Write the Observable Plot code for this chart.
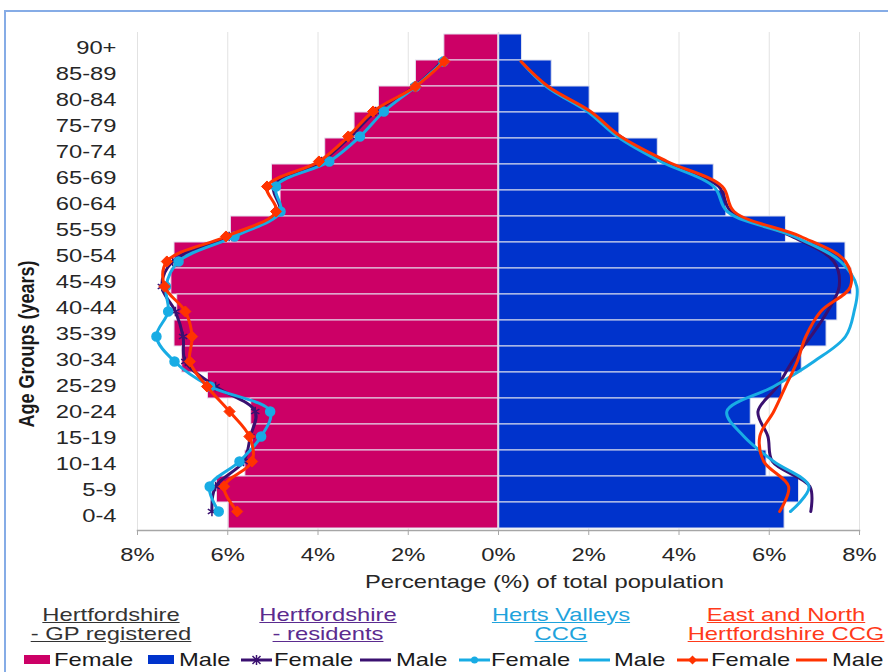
<!DOCTYPE html>
<html>
<head>
<meta charset="utf-8">
<script src="https://cdn.jsdelivr.net/npm/d3@7"></script>
<script src="https://cdn.jsdelivr.net/npm/@observablehq/plot@0.6"></script>
<style>
  html, body { margin: 0; padding: 0; background: #fff; }
  #wrap { position: relative; width: 888px; height: 672px; overflow: hidden; font-family: "Liberation Sans", Arial, sans-serif; }
  #border { position: absolute; left: 4px; top: 10px; width: 920px; height: 720px; border: 2px solid #86ace6; box-sizing: border-box; }
  .abs { position: absolute; }
  .lt { position: absolute; font-size: 19px; line-height: 19px; white-space: nowrap; transform: scaleX(1.25); transform-origin: left center; color: #1a1a1a; }
  .ttl { position: absolute; width: 200px; text-align: center; font-size: 19px; line-height: 19px; white-space: nowrap; text-decoration: underline; transform: scaleX(1.25); transform-origin: center center; }
</style>
</head>
<body>
<div id="wrap">
  <div id="border"></div>
  <div id="chart" class="abs" style="left:0;top:0"></div>
  <div id="lines" class="abs" style="left:0;top:0"></div>
  <div id="legend"></div>
</div>
<script>
// ---- Data (percent of total population) ----
const ages = ["90+","85-89","80-84","75-79","70-74","65-69","60-64","55-59","50-54","45-49","40-44","35-39","30-34","25-29","20-24","15-19","10-14","5-9","0-4"];
const xTicks = [-8,-6,-4,-2,0,2,4,6,8];

// Hertfordshire - GP registered (bars)
const gpFemale = [1.20,1.83,2.65,3.19,3.84,5.02,4.83,5.93,7.18,7.25,7.12,7.18,7.01,6.44,5.48,5.45,5.61,6.24,5.98];
const gpMale   = [0.52,1.18,2.02,2.68,3.53,4.77,5.05,6.37,7.69,7.83,7.51,7.27,6.72,6.29,5.59,5.71,5.94,6.66,6.34];

// Hertfordshire - residents
const resFemale = [1.25,1.86,2.72,3.28,3.92,4.98,4.85,5.97,7.22,7.46,7.16,6.99,6.94,6.27,5.39,5.50,5.65,6.27,6.35];
const resMale   = [0.50,1.10,2.00,2.70,3.66,4.88,5.15,6.50,7.43,7.55,7.29,6.92,6.51,6.18,5.75,5.97,6.07,6.90,6.92];

// Herts Valleys CCG
const hvFemale = [1.22,1.84,2.54,3.07,3.75,4.93,4.83,5.85,7.09,7.37,7.32,7.58,7.18,6.39,5.06,5.26,5.74,6.40,6.20];
const hvMale   = [0.50,1.06,1.97,2.63,3.59,4.77,5.07,6.55,7.58,7.94,7.88,7.69,6.99,6.10,5.06,5.44,6.10,6.88,6.47];

// East and North Hertfordshire CCG
const enFemale = [1.20,1.84,2.78,3.33,3.98,5.13,4.93,6.04,7.35,7.40,6.94,6.79,6.84,6.46,5.96,5.52,5.46,6.08,5.79];
const enMale   = [0.50,1.10,2.04,2.71,3.74,4.96,5.22,6.70,7.69,7.80,7.14,6.81,6.62,6.36,6.10,5.79,5.88,6.43,6.23];

const xLabel = "Percentage (%) of total population";
const yLabel = "Age Groups (years)";

const C = {
  female: "#cc0066", male: "#0033cc",
  res: "#3a1070", resText: "#5b2b8f",
  hv: "#18ace4", hvText: "#1fa3dc",
  en: "#ff3300", enText: "#ff3a1a",
  gpText: "#333333"
};

// ---- table ----
const rows = ages.map((age, i) => ({
  age,
  gpF: gpFemale[i], gpM: gpMale[i],
  resF: resFemale[i], resM: resMale[i],
  hvF: hvFemale[i], hvM: hvMale[i],
  enF: enFemale[i], enM: enMale[i]
}));

const common = {
  width: 888, height: 605,
  marginTop: 32, marginBottom: 75, marginLeft: 137, marginRight: 29,
  style: { fontFamily: "'Liberation Sans', Arial, sans-serif", fontSize: "19px", color: "#262626", background: "transparent", overflow: "visible" }
};

const main = Plot.plot({
  ...common,
  x: { domain: [-8, 8], tickFormat: d => Math.abs(d) + "%" },
  y: { type: "band", domain: ages, padding: 0 },
  marks: [
    Plot.gridX(xTicks, { stroke: "#e2e2e2", strokeOpacity: 1, strokeWidth: 1 }),
    Plot.barX(rows, { y: "age", x1: 0, x2: d => -d.gpF, fill: C.female, stroke: "#e4e0ee", strokeWidth: 1 }),
    Plot.barX(rows, { y: "age", x1: 0, x2: d => d.gpM, fill: C.male, stroke: "#e0e2ee", strokeWidth: 1 }),
    Plot.ruleX([0], { stroke: "#dcdce6", strokeWidth: 1.5 }),
    Plot.frame({ anchor: "bottom", stroke: "#a6a6a6", strokeWidth: 1.5 }),
    Plot.axisX(xTicks, { tickSize: 5, tickPadding: 12, stroke: "#a6a6a6", tickFormat: d => Math.abs(d) + "%", label: null }),
    Plot.axisY({ tickSize: 0, tickPadding: 21, label: null }),
    Plot.text([xLabel], { frameAnchor: "bottom", dx: 46, dy: 57, fontSize: 19, fill: "#262626" }),
    Plot.text([yLabel], { frameAnchor: "left", rotate: -90, dx: -111, dy: 146, fontSize: 18, fontWeight: "bold", fill: "#1a1a1a" })
  ]
});

const lineMarks = (key, neg, color) => Plot.line(rows, {
  x: d => neg ? -d[key] : d[key], y: "age", stroke: color, strokeWidth: 3, curve: "catmull-rom"
});

const over = Plot.plot({
  ...common,
  x: { domain: [-8, 8], axis: null },
  y: { type: "point", domain: ages, range: [58, 513], padding: 0, axis: null },
  marks: [
    // male (right side)
    lineMarks("resM", false, C.res),
    lineMarks("hvM", false, C.hv),
    lineMarks("enM", false, C.en),
    // female (left side) with markers
    lineMarks("resF", true, C.res),
    Plot.dot(rows, { x: d => -d.resF, y: "age", symbol: "asterisk", r: 4.5, stroke: C.res, strokeWidth: 1.5 }),
    lineMarks("hvF", true, C.hv),
    Plot.dot(rows, { x: d => -d.hvF, y: "age", symbol: "circle", r: 4.5, fill: C.hv, stroke: C.hv }),
    lineMarks("enF", true, C.en),
    Plot.dot(rows, { x: d => -d.enF, y: "age", symbol: "diamond2", r: 5, fill: C.en, stroke: C.en, strokeWidth: 1 })
  ]
});

function stretch(svg) {
  svg.querySelectorAll("text").forEach(t => {
    const tr = t.getAttribute("transform") || "";
    t.setAttribute("transform", tr + (tr.includes("rotate") ? " scale(1,1.25)" : " scale(1.25,1)"));
  });
}
stretch(main);

document.getElementById("chart").appendChild(main);
document.getElementById("lines").appendChild(over);

// ---- legend ----
const legendGroups = [
  { title: ["Hertfordshire", "- GP registered"], color: C.gpText, cx: 111 },
  { title: ["Hertfordshire", "- residents"], color: C.resText, cx: 328 },
  { title: ["Herts Valleys", "CCG"], color: C.hvText, cx: 561 },
  { title: ["East and North", "Hertfordshire CCG"], color: C.enText, cx: 786 }
];
const legendItems = [
  { label: "Female", kind: "rect", color: C.female, sx: 24, tx: 54 },
  { label: "Male", kind: "rect", color: C.male, sx: 148, tx: 179 },
  { label: "Female", kind: "line", marker: "asterisk", color: C.res, sx: 241, tx: 274 },
  { label: "Male", kind: "line", color: C.res, sx: 360, tx: 396 },
  { label: "Female", kind: "line", marker: "circle", color: C.hv, sx: 459, tx: 491 },
  { label: "Male", kind: "line", color: C.hv, sx: 579, tx: 614 },
  { label: "Female", kind: "line", marker: "diamond", color: C.en, sx: 677, tx: 711 },
  { label: "Male", kind: "line", color: C.en, sx: 796, tx: 832 }
];
const leg = document.getElementById("legend");
legendGroups.forEach(g => {
  const d = document.createElement("div");
  d.className = "ttl";
  d.style.left = (g.cx - 100) + "px";
  d.style.top = "605px";
  d.style.color = g.color;
  d.innerHTML = g.title[0] + "<br>" + g.title[1];
  leg.appendChild(d);
});
const ns = "http://www.w3.org/2000/svg";
const ls = document.createElementNS(ns, "svg");
ls.setAttribute("width", 888); ls.setAttribute("height", 32);
ls.style.position = "absolute"; ls.style.left = "0px"; ls.style.top = "640px";
legendItems.forEach(it => {
  if (it.kind === "rect") {
    const r = document.createElementNS(ns, "rect");
    r.setAttribute("x", it.sx); r.setAttribute("y", 15); r.setAttribute("width", 26); r.setAttribute("height", 9);
    r.setAttribute("fill", it.color);
    ls.appendChild(r);
  } else {
    const l = document.createElementNS(ns, "line");
    l.setAttribute("x1", it.sx); l.setAttribute("x2", it.sx + 31); l.setAttribute("y1", 20); l.setAttribute("y2", 20);
    l.setAttribute("stroke", it.color); l.setAttribute("stroke-width", 3);
    ls.appendChild(l);
    const cx = it.sx + 15.5, cy = 20;
    if (it.marker === "circle") {
      const c = document.createElementNS(ns, "circle");
      c.setAttribute("cx", cx); c.setAttribute("cy", cy); c.setAttribute("r", 3.5); c.setAttribute("fill", it.color);
      ls.appendChild(c);
    } else if (it.marker === "diamond") {
      const p = document.createElementNS(ns, "path");
      p.setAttribute("d", `M${cx},${cy-4.5}L${cx+4.5},${cy}L${cx},${cy+4.5}L${cx-4.5},${cy}Z`);
      p.setAttribute("fill", it.color);
      ls.appendChild(p);
    } else if (it.marker === "asterisk") {
      const p = document.createElementNS(ns, "path");
      p.setAttribute("d", `M${cx-4},${cy-4}L${cx+4},${cy+4}M${cx-4},${cy+4}L${cx+4},${cy-4}M${cx},${cy-5}L${cx},${cy+5}`);
      p.setAttribute("stroke", it.color); p.setAttribute("stroke-width", 1.5);
      ls.appendChild(p);
    }
  }
});
leg.appendChild(ls);
legendItems.forEach(it => {
  const s = document.createElement("div");
  s.className = "lt";
  s.style.left = it.tx + "px";
  s.style.top = "650px";
  s.textContent = it.label;
  leg.appendChild(s);
});
</script>
</body>
</html>
